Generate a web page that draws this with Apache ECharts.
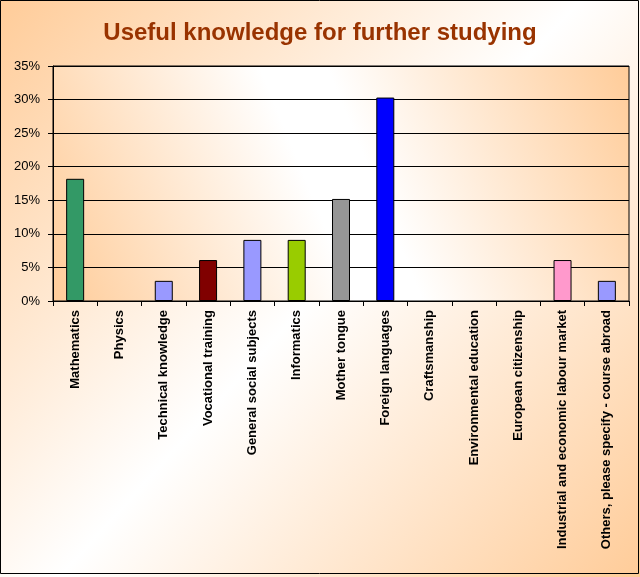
<!DOCTYPE html>
<html>
<head>
<meta charset="utf-8">
<script src="https://cdn.jsdelivr.net/npm/echarts@6/dist/echarts.min.js"></script>
<style>
html,body{margin:0;padding:0;background:#fff;}
#chart{width:640px;height:577px;}
</style>
</head>
<body>
<div id="chart"></div>
<script>
const titleText = 'Useful knowledge for further studying';
const categories = [
  'Mathematics', 'Physics', 'Technical knowledge', 'Vocational training',
  'General social subjects', 'Informatics', 'Mother tongue', 'Foreign languages',
  'Craftsmanship', 'Environmental education', 'European citizenship',
  'Industrial and economic labour market', 'Others, please specify - course abroad'
];
const values = [18.2, 0, 3.0, 6.1, 9.1, 9.1, 15.2, 30.3, 0, 0, 0, 6.1, 3.0];
const barColors = [
  '#339966', '#9999FF', '#9999FF', '#800000',
  '#9999FF', '#99CC00', '#969696', '#0000FF',
  '#9999FF', '#9999FF', '#9999FF', '#FF99CC', '#9999FF'
];
const yTicks = { min: 0, max: 35, interval: 5 };

const chart = echarts.init(document.getElementById('chart'));
const peach = '#FFCC99';
chart.setOption({
  backgroundColor: {
    type: 'linear', x: 0, y: 0, x2: 1, y2: 1,
    colorStops: [
      { offset: 0, color: peach },
      { offset: 0.5, color: '#FFFFFF' },
      { offset: 1, color: peach }
    ]
  },
  animation: false,
  title: {
    text: titleText,
    left: 'center',
    top: 16,
    textStyle: { color: '#993300', fontSize: 24, fontWeight: 'bold', fontFamily: 'Liberation Sans, Arial, sans-serif' }
  },
  grid: {
    left: 53, right: 11, top: 66, bottom: 276,
    show: true,
    borderColor: '#000', borderWidth: 1,
    backgroundColor: {
      type: 'linear', x: 1, y: 0, x2: 0, y2: 1,
      colorStops: [
        { offset: 0, color: peach },
        { offset: 0.45, color: '#FFFFFF' },
        { offset: 0.55, color: '#FFFFFF' },
        { offset: 1, color: peach }
      ]
    }
  },
  xAxis: {
    type: 'category',
    data: categories,
    axisLine: { lineStyle: { color: '#000', width: 1 } },
    axisTick: { show: true, length: 5, lineStyle: { color: '#000' } },
    axisLabel: {
      interval: 0, rotate: 90, margin: 9,
      color: '#000', fontSize: 13, fontWeight: 'bold',
      fontFamily: 'Liberation Sans, Arial, sans-serif'
    }
  },
  yAxis: {
    type: 'value',
    min: yTicks.min, max: yTicks.max, interval: yTicks.interval,
    axisLine: { show: true, lineStyle: { color: '#000', width: 1 } },
    axisTick: { show: true, length: 5, lineStyle: { color: '#000' } },
    splitLine: { show: true, lineStyle: { color: '#000', width: 1 } },
    axisLabel: {
      formatter: '{value}%', margin: 13,
      color: '#000', fontSize: 13,
      fontFamily: 'Liberation Sans, Arial, sans-serif'
    }
  },
  graphic: [{
    type: 'rect',
    shape: { x: 0.5, y: 0.5, width: 638, height: 573 },
    style: { fill: 'none', stroke: '#000', lineWidth: 1 },
    silent: true, z: 100
  }],
  series: [{
    type: 'bar',
    barWidth: 18,
    data: values.map((v, i) => ({
      value: v,
      itemStyle: { color: barColors[i], borderColor: '#000', borderWidth: v > 0 ? 1 : 0 }
    }))
  }]
});
</script>
</body>
</html>
